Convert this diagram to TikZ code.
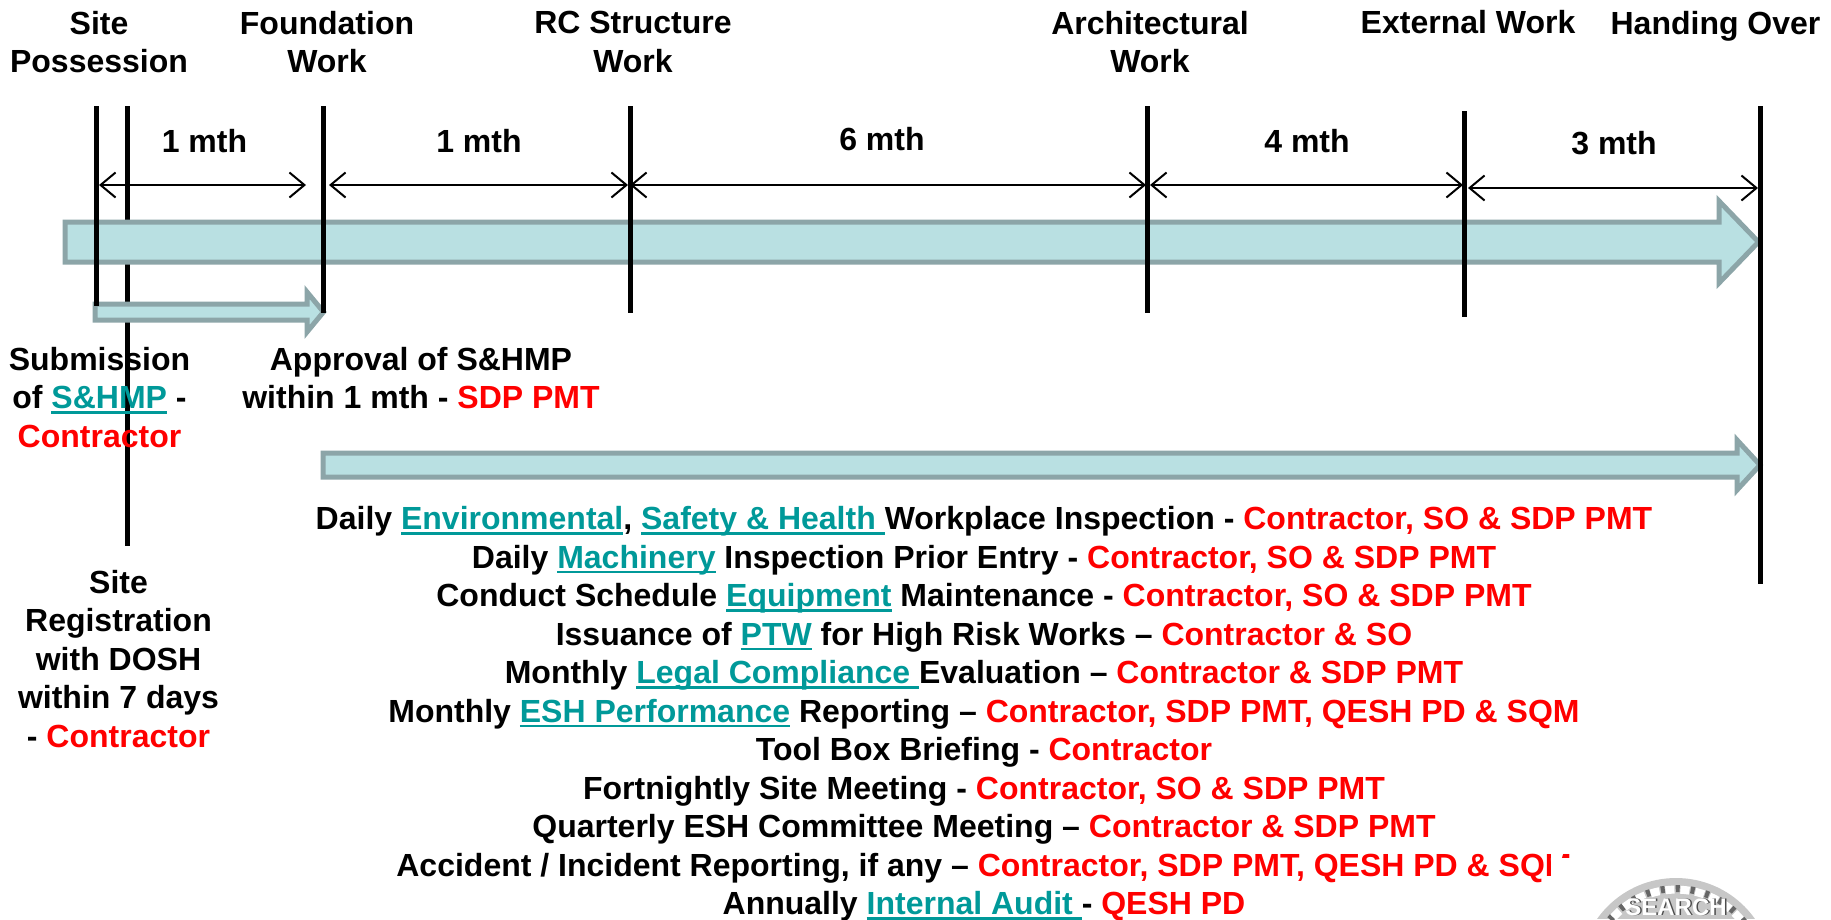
\documentclass[tikz,border=0pt]{standalone}
\usepackage{fontspec}
\setmainfont{Liberation Sans}[BoldFont={Liberation Sans Bold}]
\usetikzlibrary{arrows.meta}
\definecolor{barfill}{HTML}{B9E0E2}
\definecolor{barline}{HTML}{8CA5A8}
\definecolor{linkteal}{HTML}{009999}
\definecolor{redtxt}{HTML}{FF0000}
\newcommand{\rd}[1]{\textcolor{redtxt}{#1}}
\newcommand{\lk}[1]{{\color{linkteal}\setbox0=\hbox{#1}\rlap{\rule[-5pt]{\wd0}{2.6pt}}\box0}}
\tikzset{
  x=1pt,y=-1pt,
  bar/.style={line width=5pt,black},
  dim/.style={line width=2pt,black,{Straight Barb[length=15pt,width=25pt,line width=2pt]}-{Straight Barb[length=15pt,width=25pt,line width=2pt]}},
  flow/.style={line width=5pt,draw=barline,fill=barfill,miter limit=10},
  lbl/.style={font=\fontsize{32}{38.5}\selectfont\bfseries,align=center,inner sep=0pt,black},
  mth/.style={lbl},
}
\begin{document}
\begin{tikzpicture}
\useasboundingbox (0,0) rectangle (1831,919);
% bar ends
\coordinate (a1) at (96,106);  \coordinate (a2) at (96,306);
\coordinate (b1) at (127.5,106); \coordinate (b2) at (127.5,546);
\coordinate (c1) at (323.5,106); \coordinate (c2) at (323.5,313);
\coordinate (d1) at (630,106); \coordinate (d2) at (630,313);
\coordinate (e1) at (1147,106);\coordinate (e2) at (1147,313);
\coordinate (f1) at (1464.5,111);\coordinate (f2) at (1464.5,317);
\coordinate (g1) at (1760,106);\coordinate (g2) at (1760,584);
% line behind arrows
\draw[bar] (b1) -- (b2);
% flow arrows
\draw[flow] (65,222) -- (1719,222) -- (1719,201) -- (1758.5,242) -- (1719,283) -- (1719,262) -- (65,262) -- cycle;
\draw[flow] (95,304) -- (307,304) -- (307,292) -- (323.5,312) -- (307,332) -- (307,320) -- (95,320) -- cycle;
\draw[flow] (323,453) -- (1737,453) -- (1737,440) -- (1760,465) -- (1737,490) -- (1737,477) -- (323,477) -- cycle;
% bars over arrows
\draw[bar] (a1) -- (a2);
\draw[bar] (c1) -- (c2);
\draw[bar] (d1) -- (d2);
\draw[bar] (e1) -- (e2);
\draw[bar] (f1) -- (f2);
\draw[bar] (g1) -- (g2);
% dimension arrows
\coordinate (m1a) at (99,185);  \coordinate (m1b) at (306,185);
\coordinate (m2a) at (329,185); \coordinate (m2b) at (628,185);
\coordinate (m3a) at (630,185); \coordinate (m3b) at (1146,185);
\coordinate (m4a) at (1150,185);\coordinate (m4b) at (1463,185);
\coordinate (m5a) at (1468,188);\coordinate (m5b) at (1758,188);
\draw[dim] (m1a) -- (m1b);
\draw[dim] (m2a) -- (m2b);
\draw[dim] (m3a) -- (m3b);
\draw[dim] (m4a) -- (m4b);
\draw[dim] (m5a) -- (m5b);
\node[mth] (t1) at (204.5,141) {1 mth};
\node[mth] (t2) at (479,141) {1 mth};
\node[mth] (t3) at (882,139) {6 mth};
\node[mth] (t4) at (1307,141) {4 mth};
\node[mth] (t5) at (1614,143) {3 mth};
% headers
\node[lbl,anchor=north] (h1) at (99,11) {Site\\Possession};
\node[lbl,anchor=north] (h2) at (327,11) {Foundation\\Work};
\node[lbl,anchor=north] (h3) at (633,11) {RC Structure\\Work};
\node[lbl,anchor=north] (h4) at (1150,11) {Architectural\\Work};
\node[lbl,anchor=north] (h5) at (1468,10.5) {External Work};
\node[lbl,anchor=north] (h6) at (1715.5,11.5) {Handing Over};
% left notes
\node[lbl,anchor=north] (n1) at (99.5,347) {Submission\\of \lk{S\&HMP} -\\\rd{Contractor}};
\node[lbl,anchor=north] (n2) at (421,347) {Approval of S\&HMP\\within 1 mth - \rd{SDP PMT}};
\node[lbl,anchor=north] (n3) at (118.5,570) {Site\\Registration\\with DOSH\\within 7 days\\- \rd{Contractor}};
% main list
\node[lbl,anchor=north] (list) at (984,506.5) {%
Daily \lk{Environmental}, \lk{Safety \& Health\ }Workplace Inspection - \rd{Contractor, SO \& SDP PMT}\\
Daily \lk{Machinery} Inspection Prior Entry - \rd{Contractor, SO \& SDP PMT}\\
Conduct Schedule \lk{Equipment} Maintenance - \rd{Contractor, SO \& SDP PMT}\\
Issuance of \lk{PTW} for High Risk Works – \rd{Contractor \& SO}\\
Monthly \lk{Legal Compliance\ }Evaluation – \rd{Contractor \& SDP PMT}\\
Monthly \lk{ESH Performance} Reporting – \rd{Contractor, SDP PMT, QESH PD \& SQM}\\
Tool Box Briefing - \rd{Contractor}\\
Fortnightly Site Meeting - \rd{Contractor, SO \& SDP PMT}\\
Quarterly ESH Committee Meeting – \rd{Contractor \& SDP PMT}\\
Accident / Incident Reporting, if any – \rd{Contractor, SDP PMT, QESH PD \& SQM}\\
Annually \lk{Internal Audit\ }- \rd{QESH PD}};
% white edge of the logo picture over the last letter
\fill[white] (1551,848) rectangle (1561,882);
\fill[white] (1551,857.5) rectangle (1600,882);
% globe
\begin{scope}
\clip (1676,974.6) circle (96.6);
\fill[black!22] (1570,870) rectangle (1780,919);
\draw[black!60,line width=7pt,dash pattern=on 4pt off 11pt] (1676,974.6) circle (86);
\draw[white,line width=8pt,dash pattern=on 9pt off 6pt] (1676,974.6) circle (85);
\node[font=\fontsize{24}{24}\selectfont\bfseries,black!70,inner sep=0pt,anchor=base] (logoshadow) at (1677.5,915.5) {SEARCH};
\node[font=\fontsize{24}{24}\selectfont\bfseries,white,inner sep=0pt,anchor=base] (logo) at (1676,915) {SEARCH};
\end{scope}
\end{tikzpicture}
\end{document}
